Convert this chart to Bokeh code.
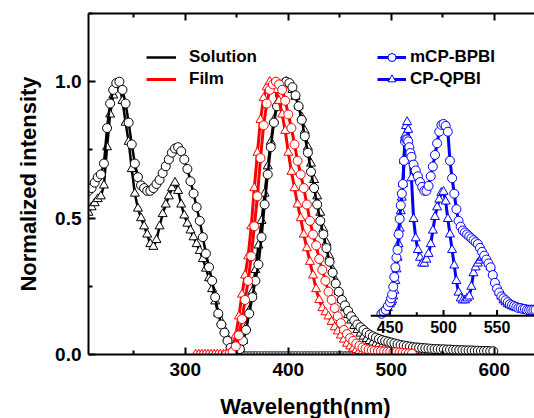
from bokeh.plotting import figure
from bokeh.layouts import column
from bokeh.models import (Range1d, LinearAxis, FixedTicker, Legend, LegendItem,
                          ColumnDataSource)
from bokeh.embed import file_html
from bokeh.resources import INLINE
from bokeh.core.properties import value

# ---------------- data ----------------
# absorption, solution (black)
abs_x = list(range(206, 351, 3))
abs_mcp = [0.60, 0.61, 0.63, 0.65, 0.66, 0.70, 0.83, 0.92, 0.97, 0.995,
           1.00, 0.97, 0.92, 0.85, 0.77, 0.70, 0.65, 0.62, 0.61, 0.60,
           0.60, 0.61, 0.625, 0.64, 0.665, 0.69, 0.715, 0.74, 0.755, 0.76,
           0.745, 0.715, 0.68, 0.635, 0.59, 0.54, 0.49, 0.43, 0.37, 0.32,
           0.27, 0.21, 0.15, 0.11, 0.08, 0.05, 0.025, 0.01, 0.003]
abs_cp = [0.52, 0.54, 0.555, 0.57, 0.58, 0.62, 0.76, 0.88, 0.95, 0.985,
          0.99, 0.93, 0.85, 0.78, 0.68, 0.59, 0.535, 0.50, 0.47, 0.44,
          0.405, 0.395, 0.42, 0.47, 0.515, 0.55, 0.58, 0.61, 0.63, 0.60,
          0.55, 0.51, 0.48, 0.455, 0.43, 0.405, 0.38, 0.35, 0.315, 0.28,
          0.24, 0.195, 0.15, 0.12, 0.09, 0.06, 0.035, 0.012, 0.003]
tail_x = list(range(353, 600, 3))
tail_y = [0.0, 0.0, 0.0, 0.0, 0.0, 0.0, 0.0, 0.0, 0.0, 0.0,
          0.0, 0.0, 0.0, 0.0, 0.0, 0.0, 0.0, 0.0, 0.0, 0.0,
          0.0, 0.0, 0.0, 0.0, 0.0, 0.0, 0.0, 0.0, 0.0, 0.0,
          0.0, 0.0, 0.0, 0.0, 0.0, 0.0, 0.0, 0.0, 0.0, 0.0,
          0.0, 0.0, 0.0, 0.0, 0.0, 0.0, 0.0, 0.0, 0.0, 0.0,
          0.0, 0.0, 0.0, 0.0, 0.0, 0.0, 0.0, 0.0, 0.0, 0.0,
          0.0, 0.0, 0.0, 0.0, 0.0, 0.0, 0.0, 0.0, 0.0, 0.0,
          0.0, 0.0, 0.0, 0.0, 0.0, 0.0, 0.0, 0.0, 0.0, 0.0,
          0.0, 0.0, 0.0]

# emission, solution (black)
sol_x = list(range(350, 600, 3))
sol_mcp = [0.00, 0.02, 0.05, 0.09, 0.15, 0.21, 0.27, 0.33, 0.43, 0.55,
           0.66, 0.76, 0.85, 0.91, 0.95, 0.985, 1.00, 0.995, 0.98, 0.95,
           0.91, 0.86, 0.80, 0.74, 0.67, 0.61, 0.55, 0.49, 0.44, 0.39,
           0.34, 0.30, 0.26, 0.23, 0.20, 0.18, 0.16, 0.14, 0.125, 0.11,
           0.10, 0.09, 0.08, 0.073, 0.067, 0.062, 0.057, 0.053, 0.05, 0.047,
           0.044, 0.041, 0.038, 0.035, 0.033, 0.031, 0.029, 0.027, 0.026, 0.025,
           0.024, 0.023, 0.022, 0.021, 0.02, 0.02, 0.019, 0.019, 0.018, 0.018,
           0.017, 0.017, 0.016, 0.016, 0.015, 0.015, 0.015, 0.014, 0.014, 0.013,
           0.013, 0.013, 0.012, 0.012]
sol_cp = [0.00, 0.02, 0.05, 0.10, 0.16, 0.23, 0.31, 0.40, 0.49, 0.59,
          0.69, 0.78, 0.86, 0.92, 0.97, 0.995, 1.00, 0.99, 0.97, 0.945,
          0.91, 0.87, 0.82, 0.76, 0.70, 0.64, 0.58, 0.52, 0.46, 0.41,
          0.36, 0.31, 0.27, 0.23, 0.20, 0.17, 0.145, 0.125, 0.105, 0.09,
          0.077, 0.066, 0.057, 0.05, 0.044, 0.039, 0.035, 0.031, 0.028, 0.025,
          0.023, 0.021, 0.019, 0.017, 0.016, 0.015, 0.014, 0.013, 0.012, 0.011,
          0.011, 0.01, 0.01, 0.009, 0.009, 0.009, 0.008, 0.008, 0.008, 0.007,
          0.007, 0.007, 0.006, 0.006, 0.006, 0.006, 0.005, 0.005, 0.005, 0.005,
          0.005, 0.004, 0.004, 0.004]

# emission, film (red)
film_cp_x = list(range(310, 521, 3))
film_cp = [0.0, 0.0, 0.0, 0.0, 0.0, 0.0, 0.0, 0.0, 0.0, 0.0,
           0.002, 0.005, 0.02, 0.07, 0.14, 0.22, 0.29, 0.36, 0.47, 0.61,
           0.74, 0.86, 0.94, 0.98, 1.00, 0.99, 0.97, 0.93, 0.88, 0.82,
           0.74, 0.67, 0.61, 0.55, 0.50, 0.44, 0.39, 0.34, 0.29, 0.24,
           0.20, 0.17, 0.155, 0.14, 0.12, 0.10, 0.085, 0.07, 0.055, 0.04,
           0.03, 0.022, 0.017, 0.013, 0.011, 0.01, 0.009, 0.009, 0.008, 0.008,
           0.007, 0.007, 0.006, 0.006, 0.005, 0.005, 0.004, 0.004, 0.003, 0.003,
           0.002]
film_mcp_x = list(range(340, 521, 3))
film_mcp = [0.0, 0.003, 0.01, 0.03, 0.07, 0.13, 0.20, 0.27, 0.36, 0.47,
            0.58, 0.72, 0.84, 0.92, 0.97, 0.99, 1.00, 0.99, 0.97, 0.93,
            0.88, 0.83, 0.77, 0.71, 0.66, 0.61, 0.55, 0.49, 0.44, 0.40,
            0.35, 0.31, 0.27, 0.23, 0.20, 0.17, 0.14, 0.115, 0.09, 0.075,
            0.06, 0.05, 0.04, 0.032, 0.026, 0.021, 0.018, 0.016, 0.014, 0.013,
            0.012, 0.011, 0.01, 0.01, 0.009, 0.008, 0.007, 0.006, 0.005, 0.004,
            0.003]

# inset (blue)
inset_x = [442, 444, 446, 448, 450] + list(range(451, 471)) + list(range(472, 587, 2))
inset_cp = [0.01, 0.02, 0.03, 0.04, 0.06,
            0.07, 0.08, 0.10, 0.13, 0.18, 0.24, 0.30, 0.37, 0.45, 0.54,
            0.61, 0.68, 0.80, 0.93, 0.98, 1.00, 0.96, 0.88, 0.80, 0.71,
            0.50, 0.40, 0.34, 0.30, 0.27, 0.27, 0.29, 0.32, 0.37, 0.44,
            0.51, 0.56, 0.60, 0.635, 0.64, 0.59, 0.50, 0.42, 0.34, 0.26,
            0.18, 0.12, 0.09, 0.08, 0.08, 0.09, 0.10, 0.15, 0.22, 0.25,
            0.27, 0.285, 0.30, 0.30, 0.29, 0.27, 0.25, 0.22, 0.18, 0.15,
            0.12, 0.10, 0.08, 0.07, 0.06, 0.055, 0.05, 0.045, 0.04, 0.04,
            0.035, 0.035, 0.03, 0.03, 0.03, 0.03, 0.03, 0.03]
inset_mcp = [0.01, 0.02, 0.03, 0.05, 0.07,
             0.09, 0.11, 0.15, 0.20, 0.25, 0.30, 0.34, 0.42, 0.50, 0.57,
             0.63, 0.68, 0.80, 0.90, 0.91, 0.91, 0.90, 0.87, 0.84, 0.82,
             0.78, 0.75, 0.72, 0.69, 0.665, 0.645, 0.645, 0.67, 0.72, 0.77,
             0.83, 0.89, 0.95, 0.985, 0.99, 0.98, 0.95, 0.80, 0.71, 0.63,
             0.55, 0.49, 0.46, 0.44, 0.43, 0.42, 0.41, 0.40, 0.39, 0.38,
             0.37, 0.35, 0.33, 0.31, 0.29, 0.27, 0.25, 0.21, 0.17, 0.14,
             0.12, 0.10, 0.09, 0.08, 0.07, 0.06, 0.055, 0.05, 0.045, 0.04,
             0.04, 0.035, 0.035, 0.03, 0.03, 0.03, 0.03, 0.03]

x_major = [300, 400, 500, 600]
x_minor = [250, 350, 450, 550, 650]
y_major = [0.0, 0.5, 1.0]
y_minor = [0.25, 0.75, 1.25]
y_labels = {0.0: "0.0", 0.5: "0.5", 1.0: "1.0"}
inset_major = [450, 500, 550]
inset_minor = [475, 525]
inset_labels = ["450", "500", "550"]
x_title = "Wavelength(nm)"
y_title = "Normalized intensity"

for a, b in [(abs_x, abs_mcp), (abs_x, abs_cp), (tail_x, tail_y), (sol_x, sol_mcp),
             (sol_x, sol_cp), (film_cp_x, film_cp), (film_mcp_x, film_mcp),
             (inset_x, inset_cp), (inset_x, inset_mcp)]:
    assert len(a) == len(b), (len(a), len(b))

# ---------------- main figure ----------------
FONT = "Liberation Sans"
W, H_MAIN, H_TITLE = 534, 388, 30
p = figure(width=W, height=H_MAIN, output_backend="svg", toolbar_location=None,
           x_range=Range1d(206, 639), y_range=Range1d(0, 1.25),
           min_border_left=88, min_border_right=0, min_border_top=13,
           min_border_bottom=34)
p.outline_line_color = None
p.xgrid.visible = False
p.ygrid.visible = False
p.background_fill_color = "white"
p.border_fill_color = "white"

p.extra_x_ranges = {"inset": Range1d(168.2, 585.0)}
p.extra_y_ranges = {"inset": Range1d(-0.20, 1.56)}

def style_axis(ax):
    ax.axis_line_width = 2
    ax.axis_line_color = "black"
    ax.major_tick_in = 7
    ax.major_tick_out = 0
    ax.minor_tick_in = 4
    ax.minor_tick_out = 0
    ax.major_tick_line_width = 2
    ax.minor_tick_line_width = 2
    ax.major_label_text_font = FONT
    ax.major_label_text_font_style = "bold"
    ax.major_label_text_font_size = "19px"
    ax.major_label_text_color = "black"
    ax.axis_label_text_font = FONT
    ax.axis_label_text_font_style = "bold"
    ax.axis_label_text_font_size = "22px"
    ax.axis_label_text_color = "black"

xa = p.xaxis[0]
xa.ticker = FixedTicker(ticks=x_major, minor_ticks=x_minor)
style_axis(xa)
xa.major_label_standoff = 8

ya = p.yaxis[0]
ya.ticker = FixedTicker(ticks=y_major, minor_ticks=y_minor)
style_axis(ya)
ya.axis_label = y_title
ya.major_label_overrides = y_labels
ya.major_label_standoff = 7
ya.axis_label_standoff = 11

top = LinearAxis(ticker=FixedTicker(ticks=x_major, minor_ticks=x_minor))
style_axis(top)
top.major_label_overrides = {t: "" for t in x_major}
top.major_label_standoff = 0
p.add_layout(top, "above")

# ---------------- glyphs ----------------
LW = 2.5
MS = 9

def curve(x, y, color, marker, lw=LW, ms=MS, **kw):
    src = ColumnDataSource(dict(x=x, y=y))
    lr = p.line("x", "y", source=src, line_color=color, line_width=lw, **kw)
    sr = p.scatter("x", "y", source=src, marker=marker, size=ms,
                   line_color=color, line_width=1, fill_color="white", **kw)
    return lr, sr

# absorption + zero tail
curve(tail_x, tail_y, "#555555", "circle", lw=1.5, ms=6)
curve(tail_x, tail_y, "#555555", "triangle", lw=1.5, ms=6)
curve(abs_x, abs_cp, "black", "triangle")
curve(abs_x, abs_mcp, "black", "circle")

# solution emission
curve(sol_x, sol_cp, "black", "triangle")
sol_line, _ = curve(sol_x, sol_mcp, "black", "circle")

# film emission
film_line, _ = curve(film_cp_x, film_cp, "red", "triangle", lw=3)
curve(film_mcp_x, film_mcp, "red", "circle", lw=3)

# inset
ins_t_line, ins_t_sc = curve(inset_x, inset_cp, "blue", "triangle", lw=3,
                             x_range_name="inset", y_range_name="inset")
ins_c_line, ins_c_sc = curve(inset_x, inset_mcp, "blue", "circle", lw=3,
                             x_range_name="inset", y_range_name="inset")

# inset axis (drawn through the inset ranges)
p.segment(x0=[432], y0=[0], x1=[585], y1=[0], line_color="black", line_width=2,
          x_range_name="inset", y_range_name="inset")
p.segment(x0=inset_major, y0=[0] * 3, x1=inset_major, y1=[0.03] * 3,
          line_color="black", line_width=2,
          x_range_name="inset", y_range_name="inset")
p.segment(x0=inset_minor, y0=[0] * 2, x1=inset_minor, y1=[0.018] * 2,
          line_color="black", line_width=2,
          x_range_name="inset", y_range_name="inset")
p.text(x=inset_major, y=[0] * 3, text=inset_labels, text_align="center",
       text_baseline="top", y_offset=5, text_font=value(FONT),
       text_font_style="bold", text_font_size="16px", text_color="black",
       x_range_name="inset", y_range_name="inset")

# ---------------- legends ----------------
def make_legend(items, loc, standoff, gw):
    lg = Legend(items=items, location=loc, orientation="vertical",
                background_fill_alpha=0, border_line_color=None,
                padding=0, margin=0, spacing=2, label_standoff=standoff,
                glyph_width=gw, glyph_height=20, label_height=20,
                label_text_font=FONT, label_text_font_style="bold",
                label_text_font_size="17px", label_text_color="black")
    p.add_layout(lg, "center")
    return lg

make_legend([LegendItem(label="Solution", renderers=[sol_line]),
             LegendItem(label="Film", renderers=[film_line])],
            (58, 265), 13, 30)
make_legend([LegendItem(label="mCP-BPBI", renderers=[ins_c_line, ins_c_sc]),
             LegendItem(label="CP-QPBI", renderers=[ins_t_line, ins_t_sc])],
            (289, 265), 4, 29)

# ---------------- x-axis title strip (frame aligned with the main frame) ----
t = figure(width=W, height=H_TITLE, output_backend="svg", toolbar_location=None,
           x_range=Range1d(88, W), y_range=Range1d(0, H_TITLE),
           x_axis_location=None, y_axis_location=None,
           min_border_left=88, min_border_right=0, min_border_top=0,
           min_border_bottom=0)
t.xgrid.visible = False
t.ygrid.visible = False
t.outline_line_color = None
t.background_fill_color = "white"
t.border_fill_color = "white"
t.text(x=[305], y=[12], text=[x_title], text_align="center",
       text_baseline="alphabetic", text_font=value(FONT), text_font_style="bold",
       text_font_size="22px", text_color="black")

layout = column(p, t, spacing=0)
open("out.html", "w").write(file_html(layout, INLINE))
